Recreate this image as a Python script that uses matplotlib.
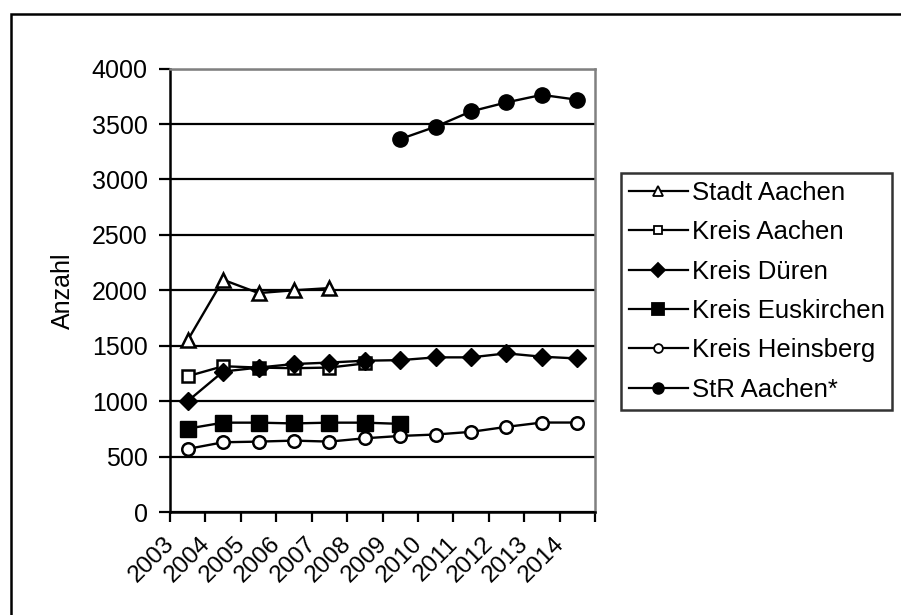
import numpy as np
import matplotlib
matplotlib.use("Agg")
import matplotlib.pyplot as plt
from matplotlib.lines import Line2D
from matplotlib.patches import Rectangle

plt.rcParams["font.family"] = ["Liberation Sans", "DejaVu Sans"]

years = [str(y) for y in range(2003, 2015)]
nan = np.nan

stadt_aachen = [1550, 2095, 1975, 2000, 2020, nan, nan, nan, nan, nan, nan, nan]
kreis_aachen = [1225, 1315, 1303, 1297, 1303, 1340, nan, nan, nan, nan, nan, nan]
kreis_dueren = [1000, 1267, 1303, 1335, 1348, 1365, 1370, 1395, 1395, 1431, 1401, 1385]
kreis_euskirchen = [752, 806, 806, 799, 806, 806, 795, nan, nan, nan, nan, nan]
kreis_heinsberg = [569, 629, 635, 644, 635, 665, 686, 699, 723, 768, 807, 807]
str_aachen = [nan, nan, nan, nan, nan, nan, 3364, 3476, 3614, 3695, 3763, 3719]

series = [
    ("Stadt Aachen", stadt_aachen, dict(marker="^", mfc="white", ms=9.5, mew=1.8)),
    ("Kreis Aachen", kreis_aachen, dict(marker="s", mfc="white", ms=8.5, mew=1.8)),
    ("Kreis Düren", kreis_dueren, dict(marker="D", mfc="black", ms=9.5)),
    ("Kreis Euskirchen", kreis_euskirchen, dict(marker="s", mfc="black", ms=11.5)),
    ("Kreis Heinsberg", kreis_heinsberg, dict(marker="o", mfc="white", ms=9, mew=1.8)),
    ("StR Aachen*", str_aachen, dict(marker="o", mfc="black", ms=11)),
]

W, H = 901, 615
fig = plt.figure(figsize=(W / 100, H / 100), dpi=100)
ax = fig.add_axes([170 / W, 1 - 512 / H, 425 / W, (512 - 68.6) / H])

x = np.arange(len(years)) + 0.5
handles = []
for name, vals, style in series:
    ax.plot(x, vals, color="black", lw=1.7, mec="black", clip_on=False, zorder=3, **style)
    small = dict(style)
    small["ms"] = style["ms"] * 0.7
    small["mew"] = 1.3
    handles.append(Line2D([], [], color="black", lw=1.6, mec="black", label=name, **small))

ax.set_xlim(0, len(years))
ax.set_ylim(0, 4000)
ax.set_yticks(range(0, 4001, 500))
ax.set_xticks(range(len(years) + 1))
ax.set_xticklabels([])
# labels sit a little left of the category centre, as in the original
ax.set_xticks(x - 0.25, minor=True)
ax.set_xticklabels(years, minor=True, rotation=45, ha="right", va="top", fontsize=17.5)
ax.tick_params(axis="x", which="major", length=7, width=1.6, direction="out")
ax.tick_params(axis="x", which="minor", length=0, pad=15)
ax.tick_params(axis="y", length=8, width=1.6, direction="out", labelsize=18, pad=8)
ax.yaxis.grid(True, color="black", lw=1.6)
ax.set_axisbelow(True)

for side in ["left", "bottom"]:
    ax.spines[side].set_linewidth(1.8)
    ax.spines[side].set_color("black")
for side in ["top", "right"]:
    ax.spines[side].set_linewidth(1.8)
    ax.spines[side].set_color("#808080")

ax.set_ylabel("Anzahl", fontsize=18, labelpad=12)

leg = fig.legend(handles=handles, loc="upper left", bbox_to_anchor=(621 / W, 1 - 173 / H),
                 borderaxespad=0, frameon=True, fancybox=False, fontsize=18.5,
                 handlelength=2.3, handletextpad=0.15, labelspacing=0.6,
                 borderpad=0.3)
leg.get_frame().set_edgecolor("black")
leg.get_frame().set_linewidth(1.8)

fig.patches.append(Rectangle((11 / W, -0.1), 1.2, 1 - 14 / H + 0.1, transform=fig.transFigure,
                             fill=False, ec="black", lw=1.8))

fig.savefig("out.png", dpi=100)
